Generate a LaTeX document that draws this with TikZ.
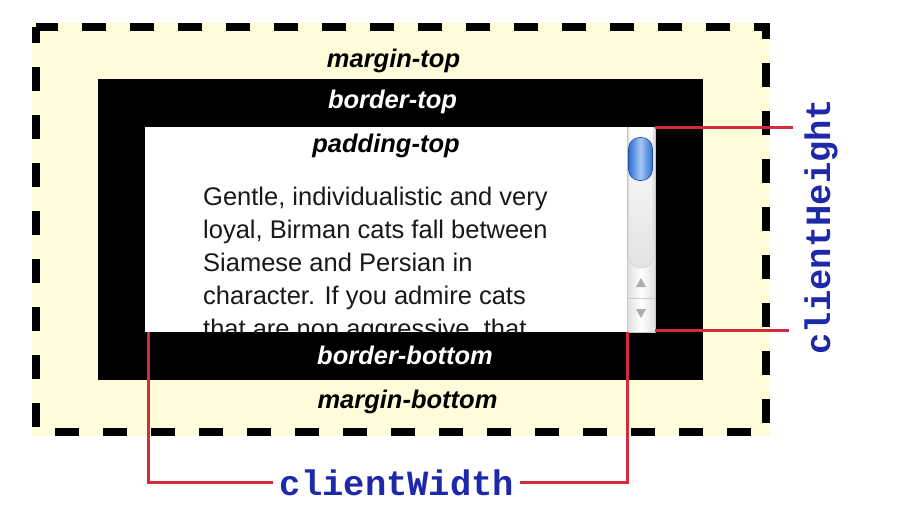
\documentclass[tikz,border=0pt]{standalone}
\usepackage{fontspec}
\setmainfont{Liberation Sans}
\newfontfamily\codefont{Liberation Mono}
\definecolor{marginfill}{HTML}{FFFCD9}
\definecolor{metricred}{HTML}{D42A3C}
\definecolor{metricblue}{HTML}{1E28AA}
\definecolor{thumbblue}{HTML}{2F6FD6}
\definecolor{thumblight}{HTML}{A4C8F4}

\begin{document}
\begin{tikzpicture}[
  x=1pt, y=-1pt,
  boxfill/.style={rectangle, inner sep=0pt, outer sep=0pt},
  lbl/.style={anchor=base, inner sep=0pt, font=\fontsize{25.5}{30}\selectfont\bfseries\itshape},
  dimlbl/.style={inner sep=0pt, anchor=base, text=metricblue, font=\fontsize{35.5}{40}\selectfont\codefont\bfseries},
  metric/.style={draw=metricred, line width=3pt},
  arrowtri/.style={fill=gray!65}
]
\useasboundingbox (0,0) rectangle (906,514);

\node[boxfill, fill=marginfill, minimum width=738pt, minimum height=413pt] (margin) at (401,229.5) {};
\draw[line width=8pt, dash pattern=on 24pt off 24pt, dash phase=8pt] ([shift={(4,4)}]margin.north west) rectangle ([shift={(-4,-4)}]margin.south east);
\node[boxfill, fill=black, minimum width=605pt, minimum height=301pt] (border) at (400.5,229.5) {};
\node[boxfill, fill=white, minimum width=510pt, minimum height=205pt] (pad) at (400,229.5) {};

\begin{scope}
  \clip (pad.north west) rectangle (pad.south east);
  \node[anchor=north west, inner sep=0pt, align=left, text=black!90, font=\fontsize{25.5}{33}\selectfont] (story) at (203,186.5)
    {Gentle, individualistic and very\\loyal, Birman cats fall between\\Siamese and Persian in\\character. If you admire cats\\that are non aggressive, that};
\end{scope}

\node[boxfill, minimum width=28pt, minimum height=205pt, left color=gray!25, right color=gray!25, middle color=white, draw=gray!45, line width=0.6pt] (sb) at (641,229.5) {};
\begin{scope}
  \clip (sb.north west) rectangle (sb.south east);
  \draw[gray!40, top color=white, bottom color=gray!22, rounded corners=11pt] (629,110) rectangle (653,268);
\end{scope}
\node[boxfill, draw=thumbblue!70!black, line width=0.6pt, rounded corners=11pt, minimum width=24pt, minimum height=43pt, left color=thumbblue, right color=thumbblue, middle color=thumblight] (thumb) at (640.5,159) {};
\fill[arrowtri] (636,287) -- (646,287) -- (641,278) -- cycle;
\draw[gray!40] (sb.west |- 0,298) -- (sb.east |- 0,298);
\fill[arrowtri] (636,309) -- (646,309) -- (641,318) -- cycle;

\node[lbl] (mtop) at (393.5,67) {margin-top};
\node[lbl, text=white] (btop) at (392.5,108) {border-top};
\node[lbl] (ptop) at (386,152) {padding-top};
\node[lbl, text=white] (bbot) at (405,364) {border-bottom};
\node[lbl] (mbot) at (407.5,408) {margin-bottom};

\node[dimlbl] (cw) at (397,495) {clientWidth};
\node[dimlbl, rotate=90] (ch) at (830,226.5) {clientHeight};

\coordinate (chtop) at (793,127.5);
\coordinate (chbot) at (789,330);
\coordinate (cwl) at (273,482);
\coordinate (cwr) at (520,482);
\draw[metric] (pad.north east |- chtop) -- (chtop);
\draw[metric] (pad.east |- chbot) -- (chbot);
\draw[metric] ([xshift=3pt]pad.south west) |- (cwl);
\draw[metric] (sb.south west) |- (cwr);
\end{tikzpicture}
\end{document}
